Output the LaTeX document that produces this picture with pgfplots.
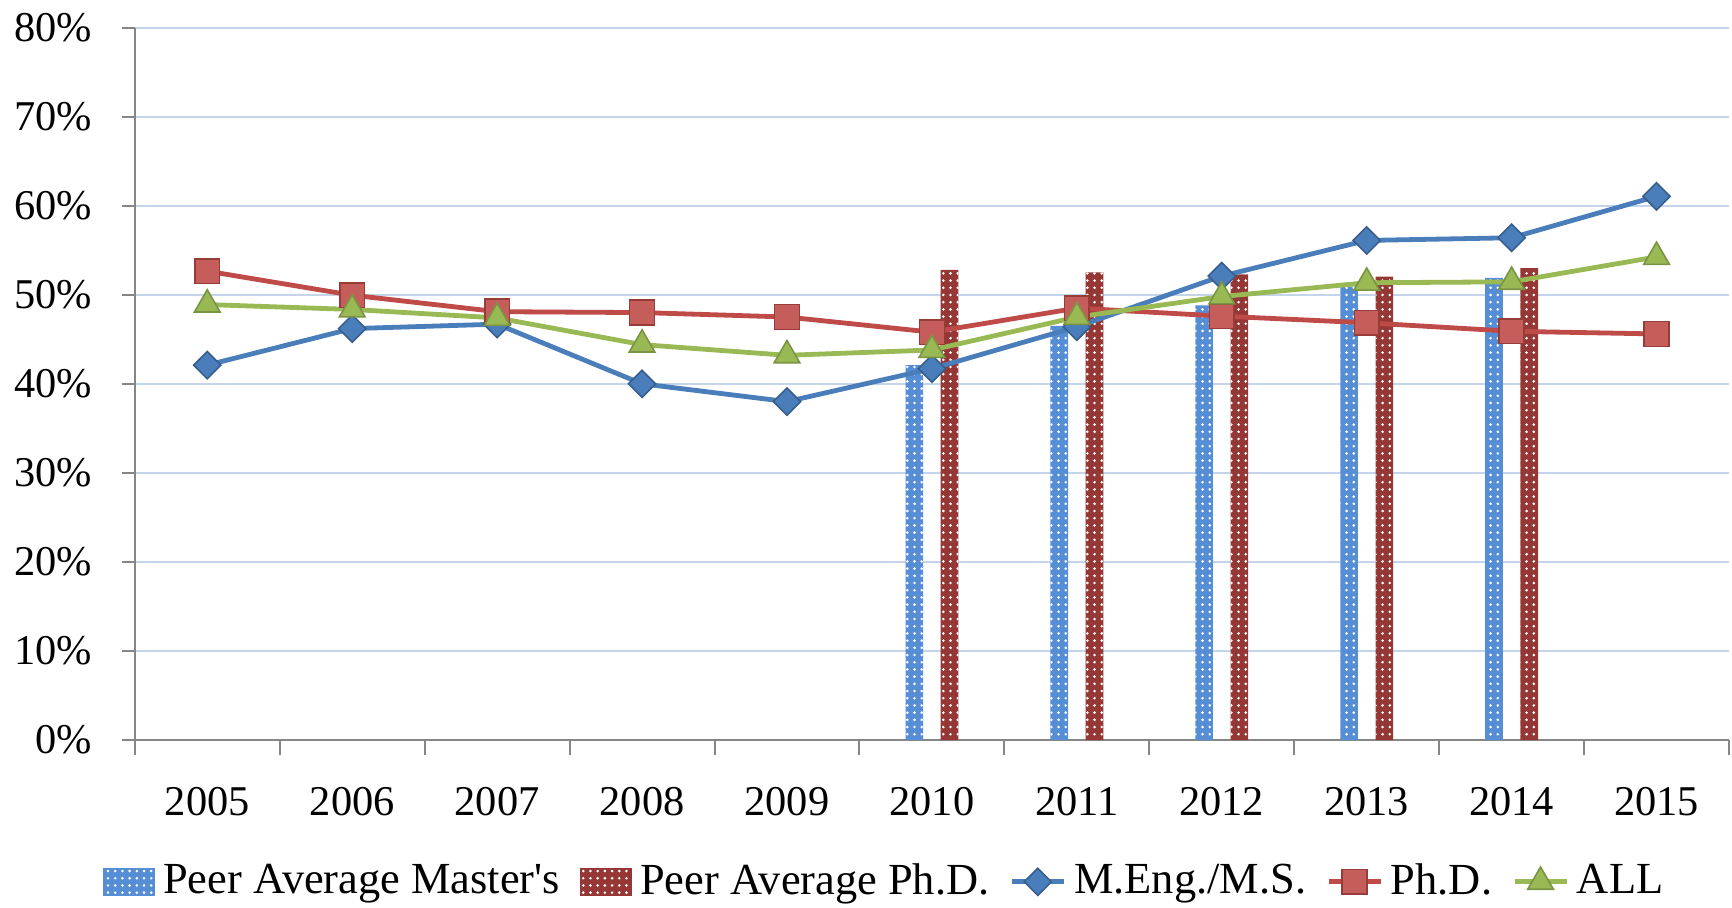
\documentclass[border=0pt]{standalone}
\usepackage{fontspec}
\setmainfont{Liberation Serif}
\usepackage{pgfplots}
\pgfplotsset{compat=1.18}
\usetikzlibrary{patterns.meta}

\definecolor{barblue}{RGB}{85,142,213}
\definecolor{barred}{RGB}{149,55,53}
\definecolor{lineblue}{RGB}{74,126,187}
\definecolor{linered}{RGB}{190,75,72}
\definecolor{linegreen}{RGB}{152,185,84}
\definecolor{gridblue}{RGB}{196,212,234}
\definecolor{axisgray}{RGB}{134,134,134}

\pgfplotsset{
  barleg/.style={legend image code/.code={\path[##1] (0pt,-3.5pt) rectangle (13pt,3.5pt);}},
  lineleg/.style={legend image code/.code={\draw[mark repeat=2,mark phase=2,##1] plot coordinates {(0pt,0pt) (6.5pt,0pt) (13pt,0pt)};}},
  dotbar/.style={ybar, bar width=4.4pt, bar shift=#1, draw=none},
}

\begin{document}
\begin{tikzpicture}
\begin{axis}[
  scale only axis,
  width=398.5pt, height=178.1pt,
  xmin=-0.5, xmax=10.5, ymin=0, ymax=80,
  axis lines=left,
  axis line style={-, draw=axisgray, line width=0.5pt},
  xtick={0,...,10},
  xticklabels={2005,2006,2007,2008,2009,2010,2011,2012,2013,2014,2015},
  minor xtick={-0.5,0.5,...,10.5},
  ytick={0,10,...,80},
  yticklabels={0\%,10\%,20\%,30\%,40\%,50\%,60\%,70\%,80\%},
  tick align=outside,
  major x tick style={draw=none},
  minor x tick style={draw=axisgray, line width=0.5pt},
  minor tick length=3.8pt,
  ytick style={draw=axisgray, line width=0.5pt},
  major tick length=3.3pt,
  ymajorgrids,
  grid style={gridblue, line width=0.5pt},
  tick label style={font=\fontsize{10.6}{12}\selectfont},
  xticklabel style={yshift=-4.9pt},
  yticklabel style={xshift=-3.8pt},
  legend columns=5,
  legend cell align=left,
  legend style={at={(0.472,-0.199)}, anchor=center, draw=none, fill=none,
    font=\fontsize{11.1}{14}\selectfont, inner sep=0pt,
    /tikz/every even column/.append style={column sep=3pt}},
]
\addplot[dotbar=-4.4pt, fill=barblue,
  postaction={pattern color=white, pattern={Dots[distance=1.8pt, radius=0.36pt]}}, barleg]
  coordinates {(5,42.1) (6,46.5) (7,48.8) (8,50.9) (9,51.9)};
\addplot[dotbar=4.4pt, fill=barred,
  postaction={pattern color=white, pattern={Dots[distance=1.8pt, radius=0.36pt]}}, barleg]
  coordinates {(5,52.8) (6,52.5) (7,52.3) (8,52.05) (9,53.0)};

\addplot[lineblue, line width=1.2pt, mark=square*, mark size=2.4pt,
  mark options={rotate=45, fill=lineblue, draw=lineblue!75!black, line width=0.4pt}, lineleg]
  coordinates {(0,42.1) (1,46.2) (2,46.7) (3,40.0) (4,38.0) (5,41.7) (6,46.4) (7,52.1) (8,56.1) (9,56.4) (10,61.05)};
\addplot[linered, line width=1.2pt, mark=square*, mark size=3.1pt,
  mark options={fill=linered!90!white, draw=linered!80!black, line width=0.4pt}, lineleg]
  coordinates {(0,52.65) (1,49.95) (2,48.1) (3,48.0) (4,47.5) (5,45.8) (6,48.5) (7,47.6) (8,46.85) (9,45.9) (10,45.6)};
\addplot[linegreen, line width=1.2pt, mark=triangle*, mark size=3.7pt,
  mark options={fill=linegreen, draw=linegreen!80!black, line width=0.4pt}, lineleg]
  coordinates {(0,48.9) (1,48.35) (2,47.4) (3,44.4) (4,43.2) (5,43.8) (6,47.5) (7,49.8) (8,51.35) (9,51.45) (10,54.25)};
\legend{Peer Average Master\textquotesingle s, Peer Average Ph.D., M.Eng./M.S., Ph.D., ALL}
\end{axis}
\pgfresetboundingbox
\path[use as bounding box] ([xshift=-33.7pt,yshift=-41.75pt]current axis.south west)
  rectangle ([xshift=0.75pt,yshift=6.9pt]current axis.north east);
\end{tikzpicture}
\end{document}
